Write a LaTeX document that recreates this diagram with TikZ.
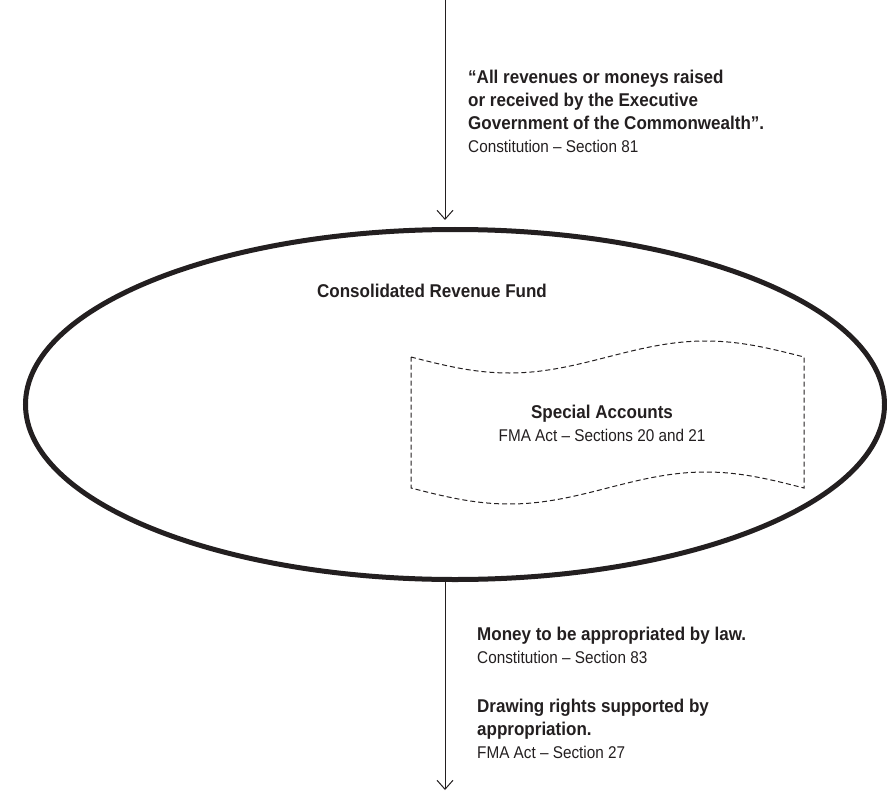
\documentclass[tikz,border=0pt]{standalone}
\usepackage{fontspec}
\setmainfont{Liberation Sans}
\newfontfamily\headfam{Liberation Sans}[FakeStretch=0.92, Ligatures=TeX]
\newfontfamily\citefam{Liberation Sans}[FakeStretch=0.9, Ligatures=TeX]
\usetikzlibrary{arrows.meta,shapes.geometric}

\definecolor{inkgray}{RGB}{35,31,32}

\newcommand{\citefont}{\citefam\fontsize{17bp}{23bp}\selectfont\mdseries}

\tikzset{
  flow/.style={draw=inkgray, line width=1bp,
    -{Straight Barb[length=9bp,width=16bp,line width=1bp]}},
  fundring/.style={ellipse, draw=inkgray, line width=5bp,
    minimum width=859bp, minimum height=350bp, inner sep=0pt},
  accbox/.style={draw=inkgray, line width=1bp, dash pattern=on 5bp off 3bp},
  label/.style={text=inkgray, inner sep=0pt,
    font=\headfam\fontsize{18.5bp}{23bp}\selectfont\bfseries},
}

\begin{document}
\begin{tikzpicture}[x=1bp, y=-1bp]
    \useasboundingbox (0,0) rectangle (887,791);

    % the fund
    \node[fundring] (crf) at (455,404.5) {};
    \node[label, anchor=base] (crfname) at (432,297) {Consolidated Revenue Fund};

    % special accounts (wavy box)
    \draw[accbox]
      plot[domain=0:393,samples=61,smooth] ({411+\x},{357+16*sin(\x/393*360)})
      -- plot[domain=393:0,samples=61,smooth] ({411+\x},{488+16*sin(\x/393*360)})
      -- cycle;
    \node[label, anchor=north, align=center] (acc) at (602,404.5)
      {Special Accounts\\{\citefont FMA Act – Sections 20 and 21}};

    % money in and out
    \coordinate (src) at (445,0);
    \coordinate (sink) at (445,790);
    \draw[flow, shorten >=7bp] (src) -- (src |- crf.north);
    \draw[flow] (src |- crf.south) -- (sink);

    % labels
    \node[label, anchor=north west, align=left] (intext) at (468,70)
      {“All revenues or moneys raised\\or received by the Executive\\Government of the Commonwealth”.\\{\citefont Constitution – Section 81}};
    \node[label, anchor=north west, align=left] (outtext) at (477,626.5)
      {Money to be appropriated by law.\\{\citefont Constitution – Section 83}\\[26bp]Drawing rights supported by\\appropriation.\\{\citefont FMA Act – Section 27}};
\end{tikzpicture}
\end{document}
